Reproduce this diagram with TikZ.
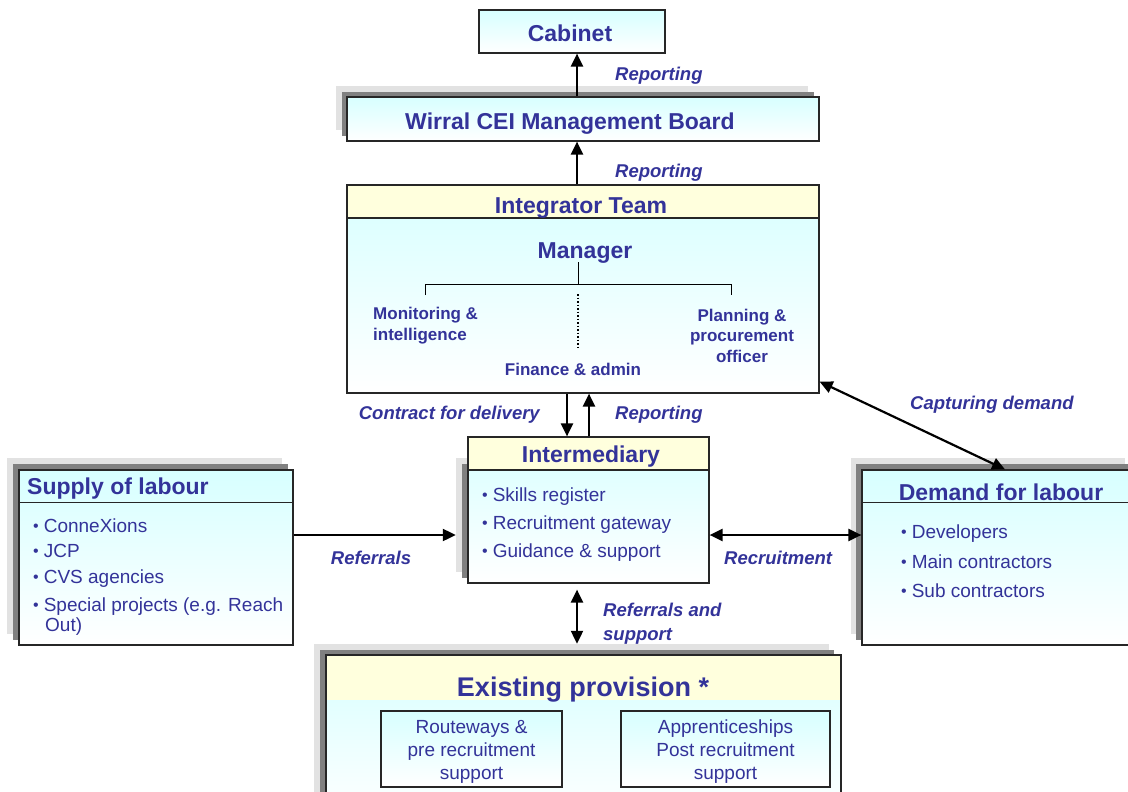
\documentclass[tikz,border=0pt]{standalone}
\usepackage{fontspec}
\setmainfont{Liberation Sans}
\usetikzlibrary{arrows.meta}

\definecolor{txtblue}{RGB}{51,51,153}
\definecolor{paleCyan}{RGB}{215,255,255}
\definecolor{paleYellow}{RGB}{255,255,221}
\definecolor{shadeL}{RGB}{226,226,226}
\definecolor{shadeD}{RGB}{128,128,128}

\newcommand{\fhead}{\bfseries\fontsize{23}{26}\selectfont}
\newcommand{\fbig}{\bfseries\fontsize{27}{30}\selectfont}
\newcommand{\fsub}{\bfseries\fontsize{17}{20.5}\selectfont}
\newcommand{\flab}{\bfseries\itshape\fontsize{18.5}{24}\selectfont}
\newcommand{\fitem}{\fontsize{19}{28}\selectfont}
\newcommand{\bul}{{\fontsize{16}{16}\selectfont\raisebox{1pt}{•}}\hspace{5pt}}

\begin{document}
\begin{tikzpicture}[x=1pt, y=-1pt,
    box/.style={draw=black!85, line width=1.2pt, top color=paleCyan, bottom color=white, inner sep=0pt, text=txtblue},
    hdr/.style={fill=paleYellow, inner sep=0pt},
    shL/.style={fill=shadeL, inner sep=0pt},
    shD/.style={fill=shadeD, inner sep=0pt},
    txt/.style={text=txtblue, inner sep=0pt},
    lbl/.style={text=txtblue, font=\flab, inner sep=0pt},
    link/.style={line width=2.2pt, -{Triangle[length=13pt,width=12pt]}},
    both/.style={line width=2.2pt, {Triangle[length=13pt,width=12pt]}-{Triangle[length=13pt,width=12pt]}}]
  \useasboundingbox (0,0) rectangle (1128,792);

  % top of the chart
  \node[shL, minimum width=472pt, minimum height=44pt] (boardL) at (572,108) {};
  \node[shD, minimum width=472pt, minimum height=44pt] (boardD) at (578,114) {};
  \node[box, minimum width=472pt, minimum height=44pt] (board) at (583,119) {};
  \node[txt, font=\fhead] (boardtx) at (570,124) {Wirral CEI Management Board};
  \node[box, minimum width=186pt, minimum height=43pt] (cab) at (572,31.5) {};
  \node[txt, font=\fhead] (cabtx) at (570,33.5) {Cabinet};

  % integrator team
  \node[box, minimum width=472pt, minimum height=208pt] (team) at (583,289) {};
  \node[hdr, draw=black!85, line width=1.2pt, minimum width=472pt, minimum height=33pt] (teamhd) at (583,201.5) {};
  \node[txt, font=\fhead] (teamtx) at (581,208.5) {Integrator Team};
  \node[txt, font=\fhead] (mgr) at (585,253.5) {Manager};
  \coordinate (tm) at (578,284); \coordinate (tl) at (425,284); \coordinate (tr) at (731,284);
  \draw[line width=1pt] (578,262) -- (tm);
  \draw[line width=1pt] ([yshift=-11pt]tl) -- (tl) -- (tr) -- ([yshift=-11pt]tr);
  \node[txt, font=\fsub, anchor=west, align=left] (mon) at (373,325.5) {Monitoring \&\\intelligence};
  \node[txt, font=\fsub, align=center] (plan) at (742,335.5) {Planning \&\\procurement\\officer};
  \node[txt, font=\fsub] (fin) at (573,369.5) {Finance \& admin};
  \draw[line width=1.5pt, dotted] ([yshift=-10pt]tm) -- ([yshift=-64pt]tm);

  % intermediary
  \node[shL, minimum width=244pt, minimum height=114pt] (interL) at (578,515) {};
  \node[shD, minimum width=243pt, minimum height=114pt] (interD) at (583.5,521) {};
  \node[box, minimum width=241pt, minimum height=146pt] (inter) at (588.5,510) {};
  \node[hdr, draw=black!85, line width=1.2pt, minimum width=241pt, minimum height=33pt] (interhd) at (588.5,453.5) {};
  \node[txt, font=\fhead] (intertx) at (591,457) {Intermediary};
  \node[txt, font=\fitem, anchor=west, align=left] (interit) at (482,525)
    {\bul Skills register\\\bul Recruitment gateway\\\bul Guidance \& support};

  % supply of labour
  \node[shL, minimum width=275pt, minimum height=176pt] (supL) at (144.5,546) {};
  \node[shD, minimum width=275pt, minimum height=176pt] (supD) at (150.5,552) {};
  \node[box, minimum width=274pt, minimum height=175pt] (sup) at (156,557.5) {};
  \draw[line width=1.2pt, black!85] ([yshift=-33pt]sup.north west) -- ([yshift=-33pt]sup.north east);
  \node[txt, font=\fhead, anchor=west] (suptx) at (27,489) {Supply of labour};
  \node[txt, font=\fontsize{19}{25.5}\selectfont, anchor=west, align=left] (supit) at (33,577)
    {\bul ConneXions\\\bul JCP\\\bul CVS agencies\\[3pt]\bul Special projects (e.g. Reach\\[-6pt]\hspace*{12pt}Out)};

  % demand for labour
  \node[shL, minimum width=274pt, minimum height=176pt] (demL) at (988,546) {};
  \node[shD, minimum width=284pt, minimum height=176pt] (demD) at (998,552) {};
  \node[box, minimum width=278pt, minimum height=175pt] (dem) at (1001,557.5) {};
  \draw[line width=1.2pt, black!85] ([yshift=-33pt]dem.north west) -- ([yshift=-33pt]dem.north east);
  \node[txt, font=\fhead] (demtx) at (1001,492) {Demand for labour};
  \node[txt, font=\fontsize{19}{29.5}\selectfont, anchor=west, align=left] (demit) at (901,561.5)
    {\bul Developers\\\bul Main contractors\\\bul Sub contractors};

  % existing provision
  \node[shL, minimum width=515pt, minimum height=176pt] (exL) at (571.5,732) {};
  \node[shD, minimum width=514pt, minimum height=170pt] (exD) at (577,735) {};
  \node[box, minimum width=515pt, minimum height=165pt] (ex) at (583.5,737.5) {};
  \node[hdr, minimum width=513.8pt, minimum height=44.4pt] (exhd) at (583.5,677.8) {};
  \node[txt, font=\fbig] (extx) at (583,689.5) {Existing provision *};
  \node[box, minimum width=181pt, minimum height=76pt] (rout) at (471.5,749) {};
  \node[txt, align=center, font=\fontsize{19}{23}\selectfont] (routtx) at (471.5,751.5)
    {Routeways \&\\pre recruitment\\support};
  \node[box, minimum width=209pt, minimum height=76pt] (appr) at (725.5,749) {};
  \node[txt, align=center, font=\fontsize{19}{23}\selectfont] (apprtx) at (725.5,751.5)
    {Apprenticeships\\Post recruitment\\support};

  % connectors
  \draw[link] ([xshift=-6pt]board.north) -- ([xshift=-6pt]board.north |- cab.south);
  \draw[link] ([xshift=-6pt]team.north) -- ([xshift=-6pt]team.north |- board.south);
  \draw[link] ([xshift=-21.5pt]inter.north |- team.south) -- ([xshift=-21.5pt]inter.north);
  \draw[link] ([xshift=0.5pt]inter.north) -- ([xshift=0.5pt]inter.north |- team.south);
  \draw[link] ([yshift=22.5pt]sup.east) -- ([yshift=22.5pt]sup.east -| interL.west);
  \draw[both] ([yshift=-25pt]inter.east) -- ([yshift=-25pt]inter.east -| dem.west);
  \draw[both] ([yshift=12pt]team.south east) -- ([xshift=4pt]dem.north);
  \draw[both, shorten <=6pt] ([xshift=-11.5pt]inter.south) -- ([xshift=-11.5pt]inter.south |- exL.north);

  % labels
  \node[lbl, anchor=west] (rep1) at (615,75.5) {Reporting};
  \node[lbl, anchor=west] (rep2) at (615,172.5) {Reporting};
  \node[lbl, anchor=east] (contr) at (540,414.5) {Contract for delivery};
  \node[lbl, anchor=west] (rep3) at (615,414.5) {Reporting};
  \node[lbl, anchor=west] (capt) at (910,404.5) {Capturing demand};
  \node[lbl] (refl) at (371,557.5) {Referrals};
  \node[lbl, anchor=west] (recr) at (724,557.5) {Recruitment};
  \node[lbl, anchor=west, align=left] (refs) at (603,623.5) {Referrals and\\support};
\end{tikzpicture}
\end{document}
